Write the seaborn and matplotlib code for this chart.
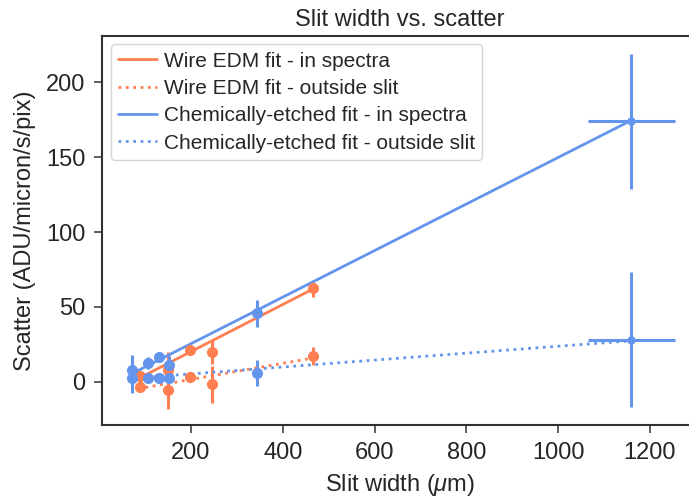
import numpy as np
import pandas as pd
import matplotlib
matplotlib.use("Agg")
import matplotlib.pyplot as plt
import seaborn as sns

# ---- data ----
wire_x = [88, 150, 197, 245, 466]
wire_in = [4.2, 8.0, 21.0, 19.8, 62.4]
wire_in_err = [3.0, 11.7, 3.0, 8.0, 5.5]
wire_out = [-3.1, -5.3, 3.6, -1.6, 17.3]
wire_out_err = [3.0, 12.5, 2.5, 12.5, 6.0]

chem_x = [71, 107, 131, 153, 344]
chem_in = [8.0, 12.9, 16.9, 11.3, 45.8]
chem_in_err = [10.0, 4.0, 2.5, 6.0, 8.9]
chem_out = [2.9, 2.9, 2.9, 2.4, 6.2]
chem_out_err = [10.0, 2.0, 2.0, 3.0, 8.7]

wide_x = [1160]
wide_xerr = [95]
wide_in = [174.0]
wide_out = [28.0]
wide_yerr = [45.0]

wire_fit_x = [85, 466]
wire_fit_in = [2.2, 62.0]
wire_fit_out = [-4.5, 16.0]
chem_fit_x = [71, 1160]
chem_fit_in = [5.5, 174.5]
chem_fit_out = [2.4, 27.5]

labels = ["Wire EDM fit - in spectra", "Wire EDM fit - outside slit",
          "Chemically-etched fit - in spectra", "Chemically-etched fit - outside slit"]

ORANGE = "coral"
BLUE = "cornflowerblue"

sns.set_theme(style="ticks")
plt.rcParams["font.family"] = ["Liberation Sans", "DejaVu Sans"]
plt.rcParams["mathtext.fontset"] = "custom"
plt.rcParams["mathtext.it"] = "Liberation Sans:italic"
plt.rcParams["mathtext.rm"] = "Liberation Sans"

fig = plt.figure(figsize=(6.89, 5.01), dpi=100)
ax = fig.add_axes([0.148, 0.1517, 0.865, 0.777])

eb_kw = dict(fmt="o", elinewidth=2.2, capsize=0, markersize=7)
ax.errorbar(wire_x, wire_in, yerr=wire_in_err, color=ORANGE, **eb_kw)
ax.errorbar(wire_x, wire_out, yerr=wire_out_err, color=ORANGE, **eb_kw)
ax.errorbar(chem_x, chem_in, yerr=chem_in_err, color=BLUE, **eb_kw)
ax.errorbar(chem_x, chem_out, yerr=chem_out_err, color=BLUE, **eb_kw)
ax.errorbar(wide_x, wide_in, yerr=wide_yerr, xerr=wide_xerr, fmt="o", color=BLUE,
            elinewidth=2.2, capsize=0, markersize=5)
ax.errorbar(wide_x, wide_out, yerr=wide_yerr, xerr=wide_xerr, fmt="o", color=BLUE,
            elinewidth=2.2, capsize=0, markersize=5)

sns.lineplot(x=wire_fit_x, y=wire_fit_in, ax=ax, color=ORANGE, lw=2, label=labels[0])
sns.lineplot(x=wire_fit_x, y=wire_fit_out, ax=ax, color=ORANGE, lw=2, ls=":", label=labels[1])
sns.lineplot(x=chem_fit_x, y=chem_fit_in, ax=ax, color=BLUE, lw=2, label=labels[2])
sns.lineplot(x=chem_fit_x, y=chem_fit_out, ax=ax, color=BLUE, lw=2, ls=":", label=labels[3])

ax.set_xlim(6, 1305)
ax.set_ylim(-28.7, 230.9)
ax.set_xticks([200, 400, 600, 800, 1000, 1200])
ax.set_yticks([0, 50, 100, 150, 200])
ax.tick_params(labelsize=17, length=6, width=1.2, color="#444444", pad=6)
for s in ax.spines.values():
    s.set_color("#333333")
    s.set_linewidth(1.5)
    s.set_visible(True)

ax.set_title("Slit width vs. scatter", fontsize=17, pad=7)
ax.set_xlabel(r"Slit width ($\mu$m)", fontsize=17, labelpad=6)
ax.set_ylabel("Scatter (ADU/micron/s/pix)", fontsize=17, labelpad=7)

ax.legend(loc="upper left", fontsize=15, frameon=True, handlelength=1.85,
          borderaxespad=0.42, labelspacing=0.4, handletextpad=0.35, borderpad=0.35)

fig.savefig("out.png", dpi=100)
